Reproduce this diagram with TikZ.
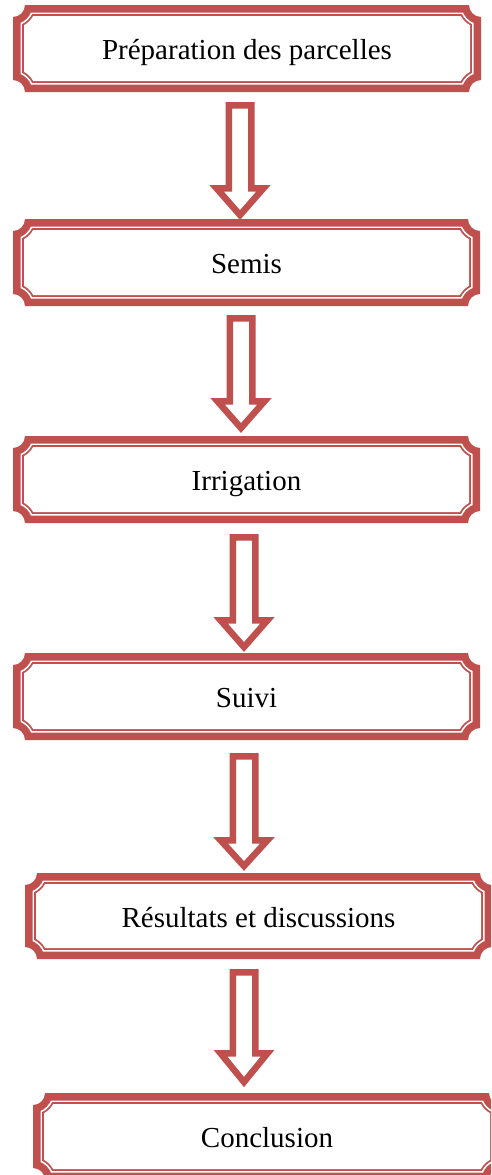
\documentclass[tikz,border=0pt]{standalone}
\usepackage{fontspec}
\setmainfont{Liberation Serif}
\definecolor{acc}{HTML}{C0504D}
\tikzset{
  lbl/.style={anchor=base, inner sep=0pt, font=\fontsize{29}{34}\selectfont},
  blockarr/.style={draw=acc, fill=white, line width=6.5pt, line join=miter},
}
% one layer of the plaque frame: x1 y1 x2 y2 inset colour
\newcommand\plaquelayer[6]{%
  \pgfmathsetmacro\plR{12+#5}%
  \pgfmathsetmacro\plS{sqrt(\plR*\plR-(#5)*(#5))}%
  \pgfmathsetmacro\plA{atan((#5)/\plS)}%
  \fill[#6] (#1+\plS,#2+#5) -- (#3-\plS,#2+#5)
    arc[start angle=180-\plA, end angle=90+\plA, radius=\plR]
    -- (#3-#5,#4-\plS)
    arc[start angle=270-\plA, end angle=180+\plA, radius=\plR]
    -- (#1+\plS,#4-#5)
    arc[start angle=-\plA, end angle=-90+\plA, radius=\plR]
    -- (#1+#5,#2+\plS)
    arc[start angle=90-\plA, end angle=\plA, radius=\plR]
    -- cycle;}
% name x1 y1 x2 y2 text
\newcommand\plaquebox[6]{%
  \plaquelayer{#2}{#3}{#4}{#5}{0}{acc}
  \plaquelayer{#2}{#3}{#4}{#5}{7.5}{white}
  \plaquelayer{#2}{#3}{#4}{#5}{9.2}{acc}
  \plaquelayer{#2}{#3}{#4}{#5}{11}{white}
  \node[lbl] (#1) at ({(#2+#4)/2},{(#3+#5)/2+11.3}) {#6};}
% x top wing tip (outer measures)
\newcommand\blockarrow[4]{%
  \draw[blockarr] (#1-11.25,#2+3.25) -- (#1+11.25,#2+3.25) -- (#1+11.25,#3+3.25)
    -- (#1+23.5,#3+3.25) -- (#1,#4-5) -- (#1-23.5,#3+3.25) -- (#1-11.25,#3+3.25) -- cycle;}
\begin{document}
\begin{tikzpicture}[x=1pt,y=-1pt]
\useasboundingbox (0,0) rectangle (491,1175);
\clip (0,0) rectangle (491,1175);
\fill[white] (0,0) rectangle (491,1175);
\plaquebox{b1}{13}{5}{481}{92}{Préparation des parcelles}
\plaquebox{b2}{13}{219}{480}{306}{Semis}
\plaquebox{b3}{13}{436}{480}{523}{Irrigation}
\plaquebox{b4}{13}{653}{480}{740}{Suivi}
\plaquebox{b5}{25}{873}{492}{959}{Résultats et discussions}
\plaquebox{b6}{33}{1093}{501}{1180}{Conclusion}
\blockarrow{240}{102}{185}{220}
\blockarrow{241}{315}{398}{433}
\blockarrow{244}{534}{617}{652}
\blockarrow{244}{753}{837}{871}
\blockarrow{244}{969}{1050}{1087}
\end{tikzpicture}
\end{document}
